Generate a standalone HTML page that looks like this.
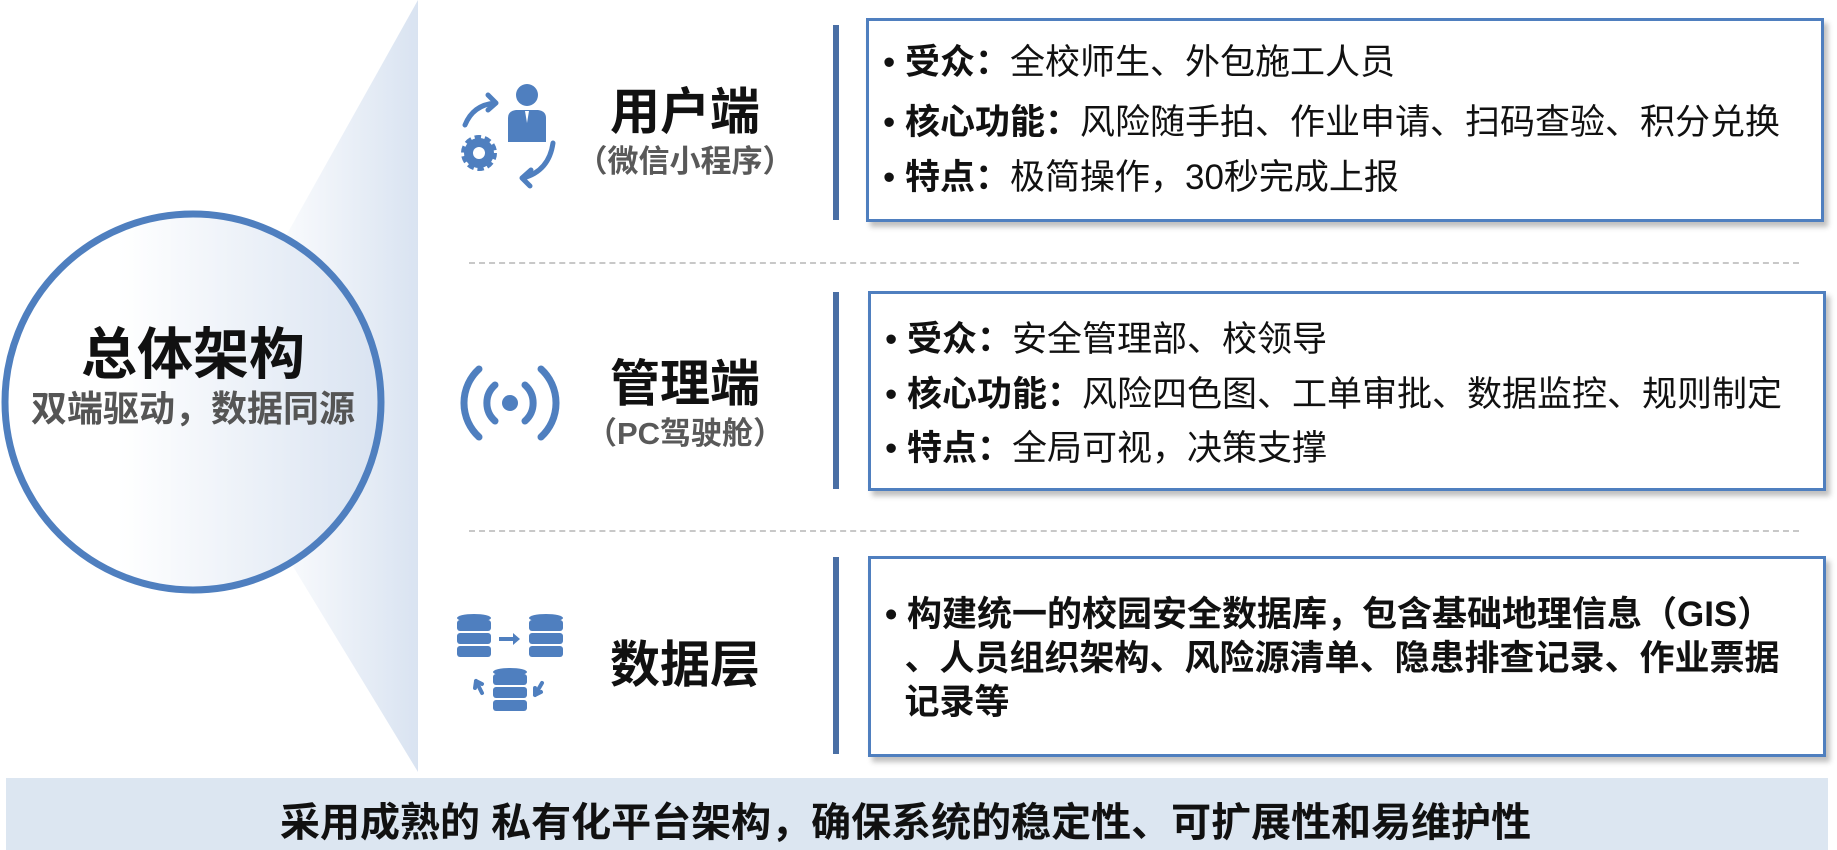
<!DOCTYPE html>
<html><head><meta charset="utf-8"><style>
body{margin:0;width:1837px;height:850px;position:relative;overflow:hidden;background:#fff;font-family:"Liberation Sans","Noto Sans CJK SC",sans-serif;}
.a{position:absolute;}
.bar{position:absolute;left:833px;width:6px;background:#4a6fa5;}
.box{position:absolute;left:868px;width:958px;border:3px solid #4f7fbf;box-sizing:border-box;background:#fff;box-shadow:4px 5px 5px rgba(0,0,0,0.25);}
.ln{position:absolute;left:14px;font-size:35px;color:#111;white-space:nowrap;line-height:40px;}
.ln b{font-weight:bold;}
.dash{position:absolute;left:469px;width:1330px;border-top:2px dashed #c8c8c8;}
.t{position:absolute;width:240px;text-align:center;font-weight:bold;}
.t1{font-size:50px;color:#111;}
.t2{font-size:31px;color:#595959;}
</style></head><body>
<svg class="a" style="left:0;top:0" width="420" height="775">
<defs><linearGradient id="g" x1="0" x2="1"><stop offset="0.3" stop-color="#fff"/><stop offset="1" stop-color="#d9e3f1"/></linearGradient></defs>
<polygon points="193,402 418,0 418,772" fill="url(#g)"/>
<circle cx="193" cy="402" r="188" fill="url(#g)" stroke="#4f7fbf" stroke-width="7"/>
</svg>
<div class="a" style="left:0;width:386px;top:310px;text-align:center;font-size:56px;font-weight:bold;color:#111">总体架构</div>
<div class="a" style="left:0;width:386px;top:380px;text-align:center;font-size:36px;font-weight:bold;color:#555;white-space:nowrap">双端驱动，数据同源</div>

<svg class="a" style="left:455px;top:78px" width="110" height="115" viewBox="0 0 110 115" fill="none" stroke="#4f7fbf">
<circle cx="72" cy="17" r="11" fill="#4f7fbf" stroke="none"/>
<path d="M53 40 q0-7 8-8 h22 q8 1 8 8 v24 h-38z" fill="#4f7fbf" stroke="none"/>
<path d="M70 33 h4 l-2 12z" fill="#fff" stroke="none"/>
<path d="M10 47 q8-20 30-22" stroke-width="5" stroke-linecap="round"/>
<path d="M33 17 l8 8 -8 7" stroke-width="5" stroke-linecap="round" stroke-linejoin="round"/>
<path d="M98 65 q-4 28 -30 35" stroke-width="5" stroke-linecap="round"/>
<path d="M76 92 l-9 8 8 8" stroke-width="5" stroke-linecap="round" stroke-linejoin="round"/>
<g transform="translate(24,75)"><circle r="15" fill="#4f7fbf" stroke="#4f7fbf" stroke-width="6" stroke-dasharray="6 3.5"/><circle r="6" fill="#fff" stroke="none"/></g>
</svg>
<svg class="a" style="left:455px;top:355px" width="110" height="100" viewBox="0 0 110 100" fill="none" stroke="#4f7fbf" stroke-width="7" stroke-linecap="round">
<circle cx="55" cy="48" r="8" fill="#4f7fbf" stroke="none"/>
<path d="M40 30 a24 24 0 0 0 0 36"/><path d="M70 30 a24 24 0 0 1 0 36"/>
<path d="M24 14 a46 46 0 0 0 0 68"/><path d="M86 14 a46 46 0 0 1 0 68"/>
</svg>
<svg class="a" style="left:455px;top:610px" width="110" height="115" viewBox="0 0 110 115">
<g fill="#4f7fbf">
<g transform="translate(2,4)"><ellipse cx="17" cy="4" rx="17" ry="4"/><rect x="0" y="6" width="34" height="11" rx="3"/><rect x="0" y="19" width="34" height="11" rx="3"/><rect x="0" y="32" width="34" height="11" rx="3"/></g>
<g transform="translate(74,4)"><ellipse cx="17" cy="4" rx="17" ry="4"/><rect x="0" y="6" width="34" height="11" rx="3"/><rect x="0" y="19" width="34" height="11" rx="3"/><rect x="0" y="32" width="34" height="11" rx="3"/></g>
<g transform="translate(38,58)"><ellipse cx="17" cy="4" rx="17" ry="4"/><rect x="0" y="6" width="34" height="11" rx="3"/><rect x="0" y="19" width="34" height="11" rx="3"/><rect x="0" y="32" width="34" height="11" rx="3"/></g>
<path d="M44 27 h14 v-4 l7 6 -7 6 v-4 h-14z"/>
</g>
<g stroke="#4f7fbf" stroke-width="4" fill="none" stroke-linecap="round"><path d="M27 83 l-6 -12 m0 0 l-1 7 m1 -7 l6 3"/><path d="M87 73 l-7 12 m0 0 l0 -7 m0 7 l6 -3"/></g>
</svg>

<div class="t t1" style="left:565px;top:72px">用户端</div>
<div class="t t2" style="left:565px;top:136px">（微信小程序）</div>
<div class="t t1" style="left:565px;top:344px">管理端</div>
<div class="t t2" style="left:565px;top:408px">（PC驾驶舱）</div>
<div class="t t1" style="left:565px;top:625px">数据层</div>

<div class="bar" style="top:25px;height:195px"></div>
<div class="bar" style="top:292px;height:197px"></div>
<div class="bar" style="top:557px;height:197px"></div>

<div class="box" style="top:18px;height:204px;left:866px;">
<div class="ln" style="top:22px">• <b>受众：</b>全校师生、外包施工人员</div>
<div class="ln" style="top:82px">• <b>核心功能：</b>风险随手拍、作业申请、扫码查验、积分兑换</div>
<div class="ln" style="top:137px">• <b>特点：</b>极简操作，30秒完成上报</div>
</div>
<div class="dash" style="top:262px"></div>
<div class="box" style="top:291px;height:200px;">
<div class="ln" style="top:26px">• <b>受众：</b>安全管理部、校领导</div>
<div class="ln" style="top:81px">• <b>核心功能：</b>风险四色图、工单审批、数据监控、规则制定</div>
<div class="ln" style="top:135px">• <b>特点：</b>全局可视，决策支撑</div>
</div>
<div class="dash" style="top:530px"></div>
<div class="box" style="top:556px;height:201px;">
<div class="ln" style="top:34px;font-weight:bold;line-height:44px;">• 构建统一的校园安全数据库，包含基础地理信息（GIS）<br>&nbsp;&nbsp;、人员组织架构、风险源清单、隐患排查记录、作业票据<br>&nbsp;&nbsp;记录等</div>
</div>

<div class="a" style="left:6px;top:778px;width:1822px;height:72px;background:#dce6f1"></div>
<div class="a" style="left:280px;top:790px;font-size:40px;font-weight:bold;color:#111;white-space:nowrap">采用成熟的 私有化平台架构，确保系统的稳定性、可扩展性和易维护性</div>
</body></html>
